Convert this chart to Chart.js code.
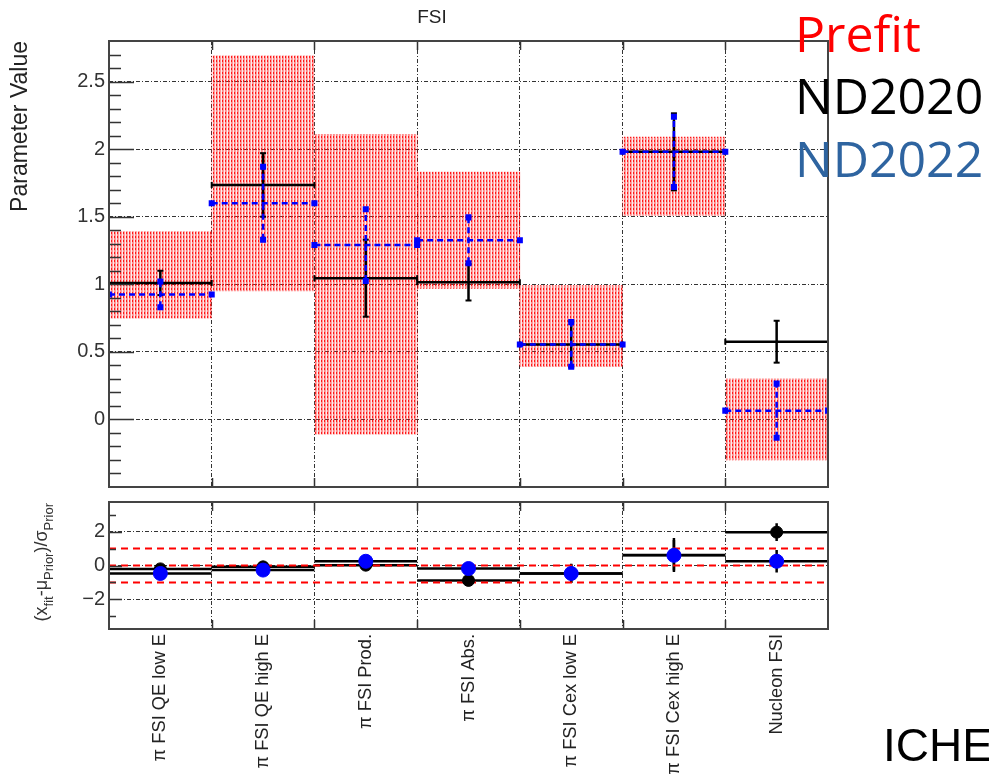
<!DOCTYPE html>
<html>
<head>
<meta charset="utf-8">
<script src="https://cdn.jsdelivr.net/npm/chart.js@4.4.1/dist/chart.umd.min.js"></script>
<style>
    body { margin: 0; background: #fff; width: 989px; height: 775px; overflow: hidden; position: relative; }
    canvas { position: absolute; left: 0; }
    #arriba { top: 0; }
    #abajo { top: 486px; }
</style>
</head>
<body>
<canvas id="arriba" width="989" height="503"></canvas>
<canvas id="abajo" width="989" height="289"></canvas>
<script>
// Parametros (bins)
const parametros = ["π FSI QE low E", "π FSI QE high E", "π FSI Prod.", "π FSI Abs.", "π FSI Cex low E", "π FSI Cex high E", "Nucleon FSI"];
// Prefit: valor central y error (caja roja)
const prefitValor = [1.07, 1.82, 1.00, 1.40, 0.69, 1.80, 0.00];
const prefitError = [0.32, 0.87, 1.11, 0.43, 0.30, 0.29, 0.30];
// ND2020 (negro)
const nd2020Valor = [1.01, 1.735, 1.045, 1.015, 0.555, 1.98, 0.575];
const nd2020Error = [0.09, 0.235, 0.285, 0.135, 0.17, 0.285, 0.155];
// ND2022 (azul)
const nd2022Valor = [0.925, 1.60, 1.29, 1.325, 0.555, 1.98, 0.065];
const nd2022Error = [0.095, 0.27, 0.265, 0.17, 0.165, 0.26, 0.20];
// Pulls del panel inferior
const nd2020Pull = [-0.20, -0.08, 0.02, -0.88, -0.47, 0.62, 1.97];
const nd2020PullError = [0.28, 0.27, 0.26, 0.31, 0.57, 1.0, 0.52];
const nd2022Pull = [-0.47, -0.27, 0.25, -0.18, -0.47, 0.60, 0.25];
const nd2022PullError = [0.30, 0.31, 0.24, 0.39, 0.55, 0.9, 0.67];
const lineasPrior = [1, 0, -1];
// Ticks
const ticksArriba = [0, 0.5, 1, 1.5, 2, 2.5];
const ticksAbajo = [-2, 0, 2];
const menoresAbajo = [-3, -1, 1, 3];

const fuente = "'Liberation Sans', Arial, sans-serif";
const guion = [4, 2, 1, 2];

// Patron rayado rojo para las cajas prefit
function rayado() {
    const c = document.createElement("canvas");
    c.width = 3;
    c.height = 4;
    const g = c.getContext("2d");
    g.fillStyle = "rgba(255,0,0,0.9)";
    g.fillRect(0, 0, 1, 2);
    g.fillStyle = "rgba(255,0,0,0.45)";
    g.fillRect(0, 2, 1, 2);
    g.fillStyle = "rgba(255,40,40,0.45)";
    g.fillRect(1, 0, 1, 4);
    g.fillStyle = "rgba(255,120,120,0.15)";
    g.fillRect(2, 0, 1, 4);
    return g.createPattern(c, "repeat");
}

// Segmentos horizontales que cubren cada bin
function tramos(valores) {
    const puntos = [];
    valores.forEach((v, i) => {
        puntos.push({ x: i, y: v }, { x: i + 1, y: v }, { x: i + 1, y: null });
    });
    return puntos;
}
// Barras de error verticales en el centro del bin
function barras(valores, errores) {
    const puntos = [];
    valores.forEach((v, i) => {
        puntos.push({ x: i + 0.5, y: v - errores[i] }, { x: i + 0.5, y: v + errores[i] }, { x: i + 0.5, y: null });
    });
    return puntos;
}
function centros(valores) {
    return valores.map((v, i) => ({ x: i + 0.5, y: v }));
}

// Marco y ticks internos estilo ROOT
function marco(menores, largoMayor, largoMenor) {
    return {
        id: "marco",
        afterDatasetsDraw(chart) {
            const { ctx, chartArea: a, scales } = chart;
            ctx.save();
            ctx.strokeStyle = "#333";
            ctx.lineWidth = 1.5;
            ctx.beginPath();
            scales.y.ticks.forEach((t) => {
                const y = Math.round(scales.y.getPixelForValue(t.value)) + 0.5;
                ctx.moveTo(a.left, y);
                ctx.lineTo(a.left + largoMayor, y);
            });
            menores.forEach((v) => {
                const y = Math.round(scales.y.getPixelForValue(v)) + 0.5;
                ctx.moveTo(a.left, y);
                ctx.lineTo(a.left + largoMenor, y);
            });
            for (let i = 1; i < parametros.length; i++) {
                const x = Math.round(scales.x2.getPixelForValue(i)) + 0.5;
                ctx.moveTo(x, a.bottom);
                ctx.lineTo(x, a.bottom - 9);
                ctx.moveTo(x, a.top);
                ctx.lineTo(x, a.top + 9);
            }
            ctx.stroke();
            ctx.lineWidth = 2;
            ctx.strokeStyle = "#444";
            ctx.strokeRect(a.left, a.top, a.right - a.left, a.bottom - a.top);
            ctx.restore();
        }
    };
}

const menoresArriba = [];
for (let k = -4; k <= 27; k++) {
    if (k % 5 !== 0) menoresArriba.push(k / 10);
}

// Textos del panel superior
const textosArriba = {
    id: "textos",
    afterDraw(chart) {
        const ctx = chart.ctx;
        ctx.save();
        ctx.textBaseline = "alphabetic";
        ctx.textAlign = "center";
        ctx.fillStyle = "#222";
        ctx.font = "19px " + fuente;
        ctx.fillText("FSI", 432, 23);
        ctx.textAlign = "left";
        ctx.font = "50px 'Open Sans', sans-serif";
        ctx.fillStyle = "#ff0000";
        ctx.fillText("Prefit", 795, 52);
        ctx.fillStyle = "#000000";
        ctx.fillText("ND2020", 795, 114);
        ctx.fillStyle = "#2e64a0";
        ctx.fillText("ND2022", 795, 177);
        ctx.restore();
    }
};

// Textos del panel inferior (titulo con subindices)
const textosAbajo = {
    id: "textos",
    afterDraw(chart) {
        const ctx = chart.ctx;
        const piezas = [["(x", false], ["fit", true], ["-μ", false], ["Prior", true], [")/σ", false], ["Prior", true]];
        const fMain = "18px " + fuente;
        const fSub = "13px " + fuente;
        const arriba = chart.chartArea.top;
        ctx.save();
        let total = 0;
        piezas.forEach(([t, s]) => {
            ctx.font = s ? fSub : fMain;
            total += ctx.measureText(t).width;
        });
        ctx.translate(47, arriba + 1 + total);
        ctx.rotate(-Math.PI / 2);
        ctx.fillStyle = "#333";
        ctx.textBaseline = "alphabetic";
        let x = 0;
        piezas.forEach(([t, s]) => {
            ctx.font = s ? fSub : fMain;
            ctx.fillText(t, x, s ? 6 : 0);
            x += ctx.measureText(t).width;
        });
        ctx.restore();
        ctx.save();
        ctx.fillStyle = "#000";
        ctx.font = "46px " + fuente;
        ctx.fillText("ICHE", 883, 761 - 486);
        ctx.restore();
    }
};

// Panel superior
new Chart(document.getElementById("arriba").getContext("2d"), {
    type: "line",
    data: {
        labels: parametros,
        datasets: [
            {
                type: "bar",
                label: "Prefit",
                data: prefitValor.map((v, i) => [v - prefitError[i], v + prefitError[i]]),
                backgroundColor: rayado(),
                borderWidth: 0,
                grouped: false,
                barPercentage: 1,
                categoryPercentage: 1,
                order: 5
            },
            {
                label: "ND2020",
                xAxisID: "x2",
                data: tramos(nd2020Valor),
                borderColor: "#000",
                borderWidth: 2.5,
                pointStyle: "line",
                pointRotation: 90,
                pointRadius: 3,
                pointBorderColor: "#000",
                pointBorderWidth: 2,
                spanGaps: false,
                order: 4
            },
            {
                label: "ND2020 err",
                xAxisID: "x2",
                data: barras(nd2020Valor, nd2020Error),
                borderColor: "#000",
                borderWidth: 2.5,
                pointStyle: "line",
                pointRadius: 3,
                pointBorderColor: "#000",
                pointBorderWidth: 2,
                spanGaps: false,
                order: 3
            },
            {
                label: "ND2022",
                xAxisID: "x2",
                data: tramos(nd2022Valor),
                borderColor: "#0000ff",
                borderWidth: 2.5,
                borderDash: [6, 4],
                pointStyle: "rect",
                pointRadius: 2.5,
                pointBackgroundColor: "#0000ff",
                pointBorderColor: "#0000ff",
                spanGaps: false,
                order: 2
            },
            {
                label: "ND2022 err",
                xAxisID: "x2",
                data: barras(nd2022Valor, nd2022Error),
                borderColor: "#0000ff",
                borderWidth: 2.5,
                borderDash: [6, 4],
                pointStyle: "rect",
                pointRadius: 2.5,
                pointBackgroundColor: "#0000ff",
                pointBorderColor: "#0000ff",
                spanGaps: false,
                order: 1
            }
        ]
    },
    options: {
        responsive: false,
        animation: false,
        events: [],
        layout: { padding: { left: 0, right: 161, top: 41, bottom: 1 } },
        plugins: { legend: { display: false }, tooltip: { enabled: false } },
        scales: {
            x: {
                type: "category",
                offset: true,
                grid: { offset: true, color: "#333", lineWidth: 1, drawTicks: false, borderDash: guion },
                border: { display: false, dash: guion },
                ticks: { display: false },
                afterFit: (s) => { s.height = 0; }
            },
            x2: { type: "linear", min: 0, max: 7, offset: false, display: false },
            y: {
                min: -0.5,
                max: 2.8,
                afterBuildTicks: (s) => { s.ticks = ticksArriba.map((v) => ({ value: v })); },
                afterFit: (s) => { s.width = 109; },
                grid: { color: "#333", lineWidth: 1, drawTicks: false, borderDash: guion },
                border: { display: false, dash: guion },
                ticks: { padding: 4, color: "#333", font: { family: fuente, size: 20 }, callback: (v) => String(v) },
                title: { display: true, text: "Parameter Value", align: "end", color: "#222", font: { family: fuente, size: 23 }, padding: { top: 7, bottom: 0 } }
            }
        }
    },
    plugins: [marco(menoresArriba, 25, 12), textosArriba]
});

// Panel inferior
new Chart(document.getElementById("abajo").getContext("2d"), {
    type: "line",
    data: {
        datasets: [
            { label: "ND2020 pull", xAxisID: "x2", data: tramos(nd2020Pull), borderColor: "#000", borderWidth: 2.5, pointRadius: 0, spanGaps: false, order: 7 },
            { label: "ND2022 pull", xAxisID: "x2", data: tramos(nd2022Pull), borderColor: "#000", borderWidth: 2.5, pointRadius: 0, spanGaps: false, order: 6 },
            { label: "ND2020 pull err", xAxisID: "x2", data: barras(nd2020Pull, nd2020PullError), borderColor: "#000", borderWidth: 2.5, pointRadius: 0, spanGaps: false, order: 5 },
            { label: "ND2022 pull err", xAxisID: "x2", data: barras(nd2022Pull, nd2022PullError), borderColor: "#000", borderWidth: 2.5, pointRadius: 0, spanGaps: false, order: 4 },
            {
                label: "Prior",
                xAxisID: "x2",
                data: lineasPrior.flatMap((v) => [{ x: 0, y: v }, { x: 7, y: v }, { x: 7, y: null }]),
                borderColor: "#ff0000",
                borderWidth: 2,
                borderDash: [7, 5],
                pointRadius: 0,
                spanGaps: false,
                order: 3
            },
            { label: "ND2020", xAxisID: "x2", data: centros(nd2020Pull), showLine: false, pointRadius: 6, pointBackgroundColor: "#000", pointBorderColor: "#000", order: 2 },
            { label: "ND2022", xAxisID: "x2", data: centros(nd2022Pull), showLine: false, pointRadius: 7, pointBackgroundColor: "#0000ff", pointBorderColor: "#0000ff", order: 1 }
        ]
    },
    options: {
        responsive: false,
        animation: false,
        events: [],
        layout: { padding: { left: 0, right: 161, top: 16, bottom: 0 } },
        plugins: { legend: { display: false }, tooltip: { enabled: false } },
        scales: {
            x: {
                type: "category",
                labels: parametros,
                offset: true,
                grid: { offset: true, color: "#333", lineWidth: 1, drawTicks: false, borderDash: guion },
                border: { display: false, dash: guion },
                ticks: { autoSkip: false, minRotation: 90, maxRotation: 90, padding: 5, color: "#222", font: { family: fuente, size: 18.3 } },
                afterFit: (s) => { s.height = 146; }
            },
            x2: { type: "linear", min: 0, max: 7, offset: false, display: false },
            y: {
                min: -3.75,
                max: 3.75,
                afterBuildTicks: (s) => { s.ticks = ticksAbajo.map((v) => ({ value: v })); },
                afterFit: (s) => { s.width = 109; },
                grid: { color: "#333", lineWidth: 1, drawTicks: false, borderDash: guion },
                border: { display: false, dash: guion },
                ticks: { padding: 4, color: "#333", font: { family: fuente, size: 20 }, callback: (v) => (v < 0 ? "\u2212" + Math.abs(v) : String(v)) }
            }
        }
    },
    plugins: [marco(menoresAbajo, 13, 7), textosAbajo]
});
</script>
</body>
</html>
